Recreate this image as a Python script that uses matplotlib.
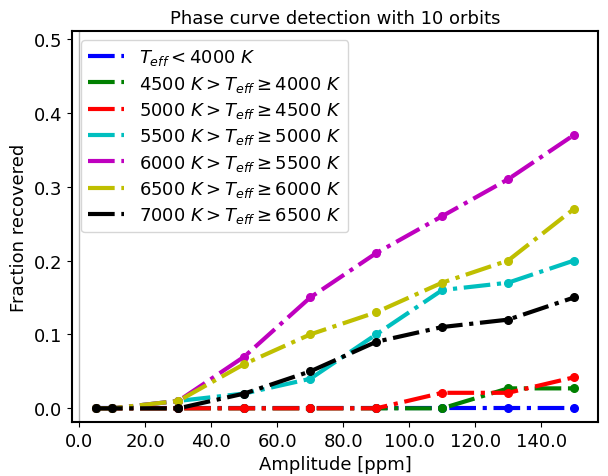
import matplotlib
matplotlib.use("Agg")
import matplotlib.pyplot as plt
from matplotlib.ticker import FormatStrFormatter

amplitude = [5, 10, 30, 50, 70, 90, 110, 130, 150]
labels = [
    r"$T_{eff} < 4000\ K$",
    r"$4500\ K > T_{eff} \geq 4000\ K$",
    r"$5000\ K > T_{eff} \geq 4500\ K$",
    r"$5500\ K > T_{eff} \geq 5000\ K$",
    r"$6000\ K > T_{eff} \geq 5500\ K$",
    r"$6500\ K > T_{eff} \geq 6000\ K$",
    r"$7000\ K > T_{eff} \geq 6500\ K$",
]
colors = ["b", "g", "r", "c", "m", "y", "k"]
frac_lt4000 = [0, 0, 0, 0, 0, 0, 0, 0, 0]
frac_4000_4500 = [0, 0, 0, 0, 0, 0, 0, 0.027, 0.027]
frac_4500_5000 = [0, 0, 0, 0, 0, 0, 0.021, 0.021, 0.042]
frac_5000_5500 = [0, 0, 0.01, 0.02, 0.04, 0.10, 0.16, 0.17, 0.20]
frac_5500_6000 = [0, 0, 0.01, 0.07, 0.15, 0.21, 0.26, 0.31, 0.37]
frac_6000_6500 = [0, 0, 0.01, 0.06, 0.10, 0.13, 0.17, 0.20, 0.27]
frac_6500_7000 = [0, 0, 0, 0.02, 0.05, 0.09, 0.11, 0.12, 0.15]
series = [frac_lt4000, frac_4000_4500, frac_4500_5000, frac_5000_5500,
          frac_5500_6000, frac_6000_6500, frac_6500_7000]

fig = plt.figure(figsize=(6.08, 4.77), dpi=100)
ax = fig.add_axes([0.1184, 0.1132, 0.8652, 0.8197])
ax.axvline(0, color="0.7", lw=1)
for y, c, lab in zip(series, colors, labels):
    ax.plot(amplitude, y, "-.", color=c, lw=3, label=lab)
    ax.plot(amplitude, y, "o", color=c, ms=5.5)

ax.set_xlim(-2.25, 157.25)
ax.set_ylim(-0.0185, 0.5105)
ax.set_xticks([0, 20, 40, 60, 80, 100, 120, 140])
ax.set_yticks([0, 0.1, 0.2, 0.3, 0.4, 0.5])
ax.xaxis.set_major_formatter(FormatStrFormatter("%.1f"))
ax.yaxis.set_major_formatter(FormatStrFormatter("%.1f"))
ax.tick_params(labelsize=13)
for s in ax.spines.values():
    s.set_linewidth(1.5)
ax.set_xlabel("Amplitude [ppm]", fontsize=13)
ax.set_ylabel("Fraction recovered", fontsize=13)
ax.set_title("Phase curve detection with 10 orbits", fontsize=13)
ax.legend(loc="upper left", fontsize=13, labelspacing=0.35, borderaxespad=0.5)
fig.savefig("out.png", dpi=100)
